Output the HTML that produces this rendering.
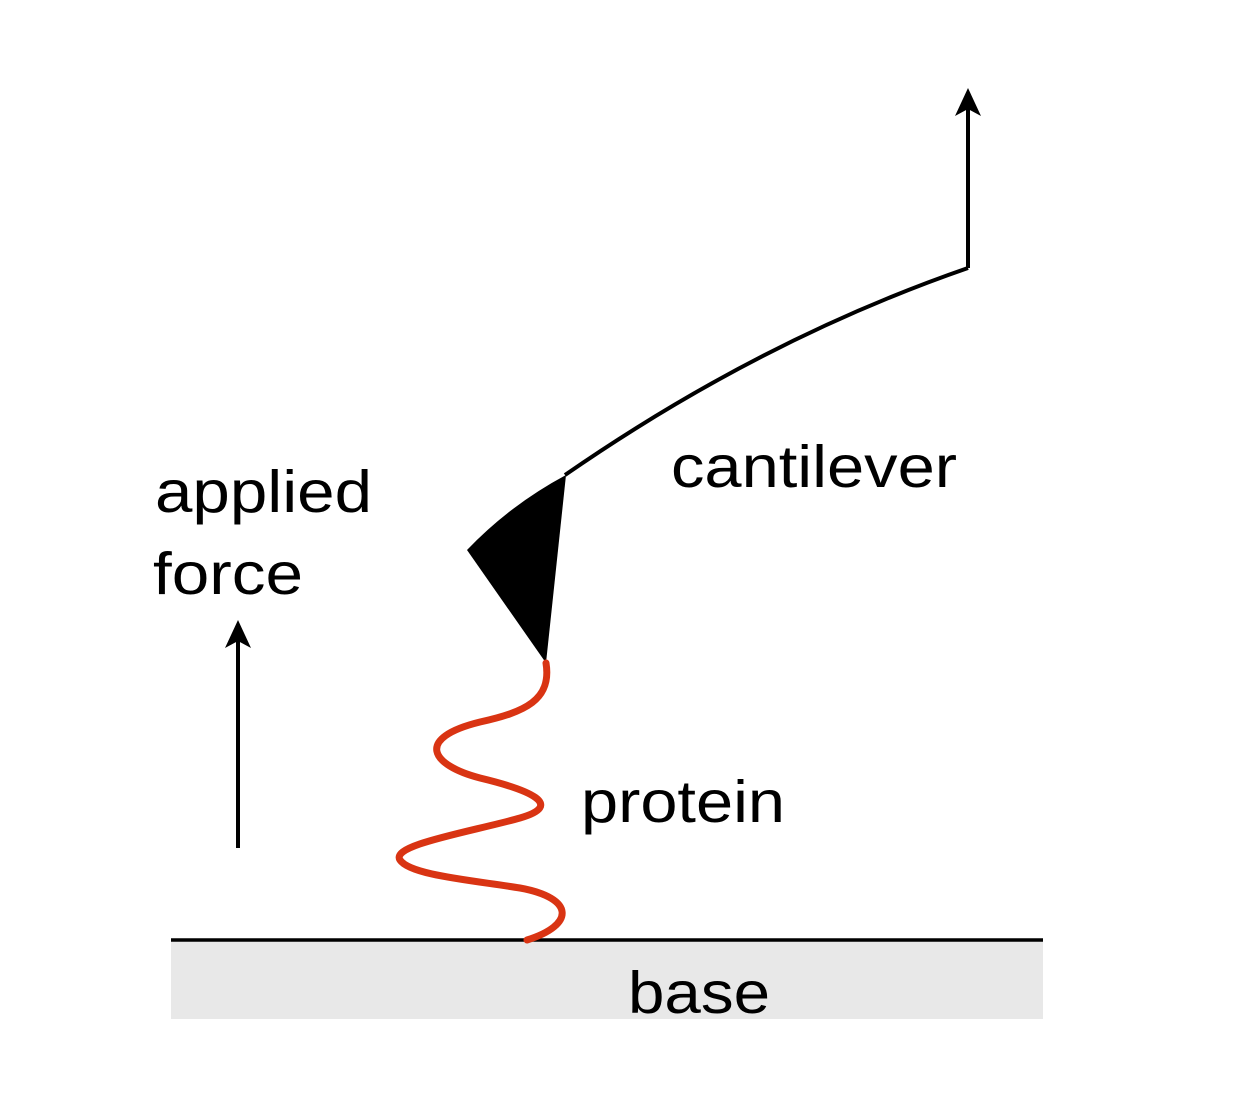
<!DOCTYPE html>
<html>
<head>
<meta charset="utf-8">
<style>
html,body{margin:0;padding:0;background:#fff;}
svg{display:block;}
text{font-family:"Liberation Sans",sans-serif;fill:#000;}
</style>
</head>
<body>
<svg width="1233" height="1110" viewBox="0 0 1233 1110">
  <rect x="171" y="940" width="872" height="79" fill="#e8e8e8"/>
  <line x1="171" y1="940" x2="1043" y2="940" stroke="#000" stroke-width="3.5"/>
  <text x="628" y="1013" font-size="59" textLength="142" lengthAdjust="spacingAndGlyphs">base</text>

  <path d="M565,475 Q760,340 968,268" fill="none" stroke="#000" stroke-width="4"/>
  <line x1="968" y1="268" x2="968" y2="105" stroke="#000" stroke-width="4"/>
  <path d="M968,88 L955,116 L968,109 L981,116 Z" fill="#000"/>
  <path d="M467,550 Q510,505 566,475 L546,663 Z" fill="#000"/>
  <text x="671" y="487" font-size="59" textLength="286" lengthAdjust="spacingAndGlyphs">cantilever</text>

  <line x1="238" y1="848" x2="238" y2="637" stroke="#000" stroke-width="4"/>
  <path d="M238,620 L225,648 L238,641 L251,648 Z" fill="#000"/>
  <text x="155" y="512" font-size="59" textLength="217" lengthAdjust="spacingAndGlyphs">applied</text>
  <text x="153" y="594" font-size="59" textLength="150" lengthAdjust="spacingAndGlyphs">force</text>

  <path d="M546,663 C552,700 525,712 480,722 C415,738 430,765 480,778 C530,790 565,805 520,818 C470,832 390,845 400,860 C410,875 470,880 520,888 C575,898 575,925 527,940"
        fill="none" stroke="#d93413" stroke-width="7" stroke-linecap="round"/>
  <text x="581" y="822" font-size="59" textLength="204" lengthAdjust="spacingAndGlyphs">protein</text>
</svg>
</body>
</html>
